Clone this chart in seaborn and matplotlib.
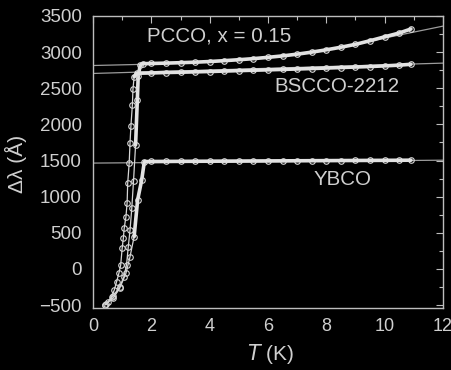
import matplotlib
matplotlib.use("Agg")
import matplotlib.pyplot as plt
import seaborn as sns
import pandas as pd
from matplotlib.ticker import MultipleLocator

# ---- data ----
pcco_T = [0.45, 0.70, 0.92, 1.06, 1.15, 1.21, 1.27, 1.33, 1.39, 1.46, 1.52, 1.55, 1.62,
          1.7, 2.0, 2.5, 3.0, 3.5, 4.0, 4.5, 5.0, 5.5, 6.0, 6.5, 7.0, 7.5, 8.0, 8.5, 9.0,
          9.5, 10.0, 10.5, 10.9]
pcco_L = [-490, -370, -244, -106, 56, 309, 540, 840, 1222, 1716, 2338, 2670, 2820,
          2840, 2843, 2848, 2854, 2861, 2870, 2882, 2895, 2910, 2928, 2948, 2972, 3000,
          3032, 3068, 3108, 3158, 3212, 3265, 3320]

bscco_T = [0.41, 0.52, 0.64, 0.73, 0.81, 0.89, 0.95, 1.00, 1.04, 1.07, 1.13, 1.17, 1.19,
           1.24, 1.27, 1.30, 1.35, 1.37, 1.41,
           1.5, 2.0, 2.5, 3.0, 3.5, 4.0, 4.5, 5.0, 5.5, 6.0, 6.5, 7.0, 7.5, 8.0, 8.5,
           9.0, 9.5, 10.0, 10.5, 10.9]
bscco_L = [-497, -452, -382, -290, -175, -55, 56, 287, 425, 564, 724, 918, 1186,
           1463, 1748, 1979, 2269, 2486, 2660,
           2708, 2712, 2718, 2722, 2727, 2732, 2738, 2744, 2750, 2755, 2761, 2767, 2773,
           2780, 2787, 2794, 2801, 2810, 2820, 2832]

ybco_T = [0.41, 0.70, 0.92, 1.13, 1.27, 1.41, 1.53, 1.67, 1.76,
          2.0, 2.5, 3.0, 3.5, 4.0, 4.5, 5.0, 5.5, 6.0, 6.5, 7.0, 7.5, 8.0, 8.5, 9.0,
          9.5, 10.0, 10.5, 10.9]
ybco_L = [-497, -400, -262, -59, 171, 447, 955, 1232, 1485,
          1487, 1488, 1489, 1490, 1491, 1492, 1493, 1494, 1495, 1496, 1497, 1498, 1499,
          1500, 1501, 1502, 1503, 1504, 1505]

# fit lines
pcco_fit_T = [0, 1.6, 4, 6, 8, 10, 12]
pcco_fit_L = [2815, 2830, 2865, 2925, 3025, 3195, 3360]
bscco_fit_T = [0, 12]
bscco_fit_L = [2705, 2848]
ybco_fit_T = [0, 12]
ybco_fit_L = [1465, 1505]

labels = ["PCCO, x = 0.15", "BSCCO-2212", "YBCO"]

# ---- style ----
sns.set_theme(style="dark")
plt.rcParams['font.family'] = ['Liberation Sans', 'DejaVu Sans']
bg = "#000000"
fg = "#cfcfcf"

fig = plt.figure(figsize=(4.51, 3.70), dpi=100, facecolor=bg)
ax = fig.add_axes([93/451, 62/370, 350/451, 292/370])
ax.set_facecolor(bg)
ax.grid(False)

fitc = "#9c9c9c"
for T, L in [(pcco_fit_T, pcco_fit_L), (bscco_fit_T, bscco_fit_L), (ybco_fit_T, ybco_fit_L)]:
    sns.lineplot(x=T, y=L, ax=ax, color=fitc, lw=0.9, sort=False, estimator=None)

datac = "#d6d6d6"
for T, L in [(pcco_T, pcco_L), (bscco_T, bscco_L), (ybco_T, ybco_L)]:
    df = pd.DataFrame({"T": T, "L": L})
    sns.lineplot(data=df, x="T", y="L", ax=ax, color=datac, lw=0.9, sort=False,
                 estimator=None, marker="o", markersize=4, markerfacecolor="none",
                 markeredgecolor=datac, markeredgewidth=0.8)
    # plateau band
    n0 = next(i for i, t in enumerate(T) if t >= 1.5)
    sns.lineplot(x=T[n0-1:], y=L[n0-1:], ax=ax, color="#e2e2e2", lw=2.6, sort=False,
                 estimator=None)

ax.set_xlim(0, 12)
ax.set_ylim(-540, 3500)
ax.xaxis.set_major_locator(MultipleLocator(2))
ax.xaxis.set_minor_locator(MultipleLocator(1))
ax.yaxis.set_major_locator(MultipleLocator(500))
ax.yaxis.set_minor_locator(MultipleLocator(250))
ax.tick_params(which="both", direction="in", top=True, right=True, colors="#bdbdbd",
               labelcolor=fg, width=0.8)
ax.tick_params(which="major", length=5)
ax.tick_params(which="minor", length=3)
ax.tick_params(axis="x", which="major", labelsize=13, pad=7)
ax.tick_params(axis="y", which="major", labelsize=13.5, pad=8)
for s in ax.spines.values():
    s.set_visible(True)
    s.set_color("#bdbdbd")
    s.set_linewidth(1.0)

ax.set_xlabel("$T$ (K)", color=fg, fontsize=15)
ax.set_ylabel("Δλ (Å)", color=fg, fontsize=15)
ax.xaxis.set_label_coords((271 - 93) / 350, -(342 - 308) / 292)
ax.yaxis.set_label_coords(-(93 - 27) / 350, (308 - 164) / 292)

ax.text(4.32, 3223, labels[0], color=fg, fontsize=14.8, ha="center", va="center")
ax.text(8.37, 2518, labels[1], color=fg, fontsize=14.8, ha="center", va="center")
ax.text(8.57, 1232, labels[2], color=fg, fontsize=14.8, ha="center", va="center")

fig.savefig("out.png", dpi=100, facecolor=bg)
